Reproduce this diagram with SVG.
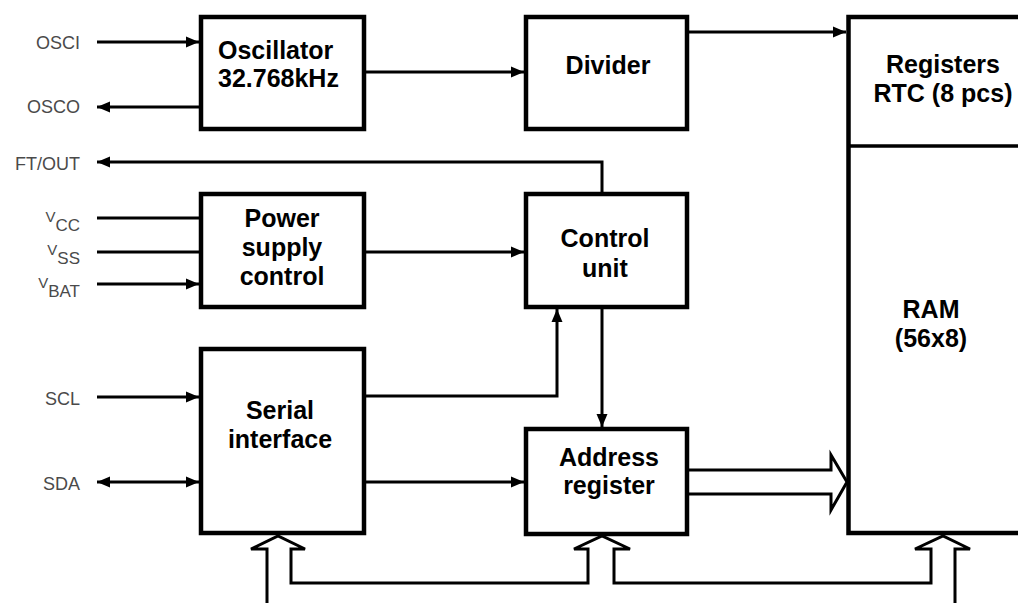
<svg xmlns="http://www.w3.org/2000/svg" width="1018" height="603" viewBox="0 0 1018 603">
<style>
.box{fill:#fff;stroke:#000;stroke-width:4.5}
.t{font-family:"Liberation Sans",Arial,sans-serif;font-weight:bold;font-size:25px;fill:#000}
.c{text-anchor:middle}
.lbl{font-family:"Liberation Sans",Arial,sans-serif;font-size:18px;fill:#4a4a4a;text-anchor:end}
.w{fill:none;stroke:#000;stroke-width:3}
.bus{fill:none;stroke:#000;stroke-width:3;stroke-linejoin:miter}
</style>
<defs>
<marker id="ah" markerUnits="userSpaceOnUse" markerWidth="14" markerHeight="12" refX="13" refY="6" orient="auto-start-reverse">
<path d="M0,0.5 L13,6 L0,11.5 z" fill="#000"/>
</marker>
</defs>
<rect width="1018" height="603" fill="#fff"/>
<g id="connectors">
<line class="w" x1="97" y1="42" x2="199" y2="42" marker-end="url(#ah)"/>
<line class="w" x1="199" y1="107" x2="97" y2="107" marker-end="url(#ah)"/>
<path class="w" d="M602,192 V162 H97" marker-end="url(#ah)"/>
<line class="w" x1="97" y1="218" x2="199" y2="218"/>
<line class="w" x1="97" y1="252" x2="199" y2="252"/>
<line class="w" x1="97" y1="284" x2="199" y2="284" marker-end="url(#ah)"/>
<line class="w" x1="97" y1="397" x2="199" y2="397" marker-end="url(#ah)"/>
<line class="w" x1="97" y1="482" x2="199" y2="482" marker-start="url(#ah)" marker-end="url(#ah)"/>
<line class="w" x1="366" y1="72" x2="524" y2="72" marker-end="url(#ah)"/>
<line class="w" x1="689" y1="32" x2="846" y2="32" marker-end="url(#ah)"/>
<line class="w" x1="366" y1="252" x2="524" y2="252" marker-end="url(#ah)"/>
<path class="w" d="M366,396 H557 V309" marker-end="url(#ah)"/>
<line class="w" x1="602" y1="309" x2="602" y2="427" marker-end="url(#ah)"/>
<line class="w" x1="366" y1="482" x2="524" y2="482" marker-end="url(#ah)"/>
<path class="bus" d="M689,470 H831 V455 L847,482 L831,510 V494 H689"/>
<path class="bus" d="M267,603 V549 H251 L278,536 L305,549 H291 V583 H588 V549 H574 L602,536 L630,549 H614 V583 H931 V549 H915 L943,536 L970,549 H955 V603"/>
</g>
<g id="labels">
<text class="lbl" x="80" y="49">OSCI</text>
<text class="lbl" x="80" y="113">OSCO</text>
<text class="lbl" x="80" y="170">FT/OUT</text>
<text class="lbl" x="80" y="231"><tspan font-size="15" dy="-9">V</tspan><tspan font-size="17" dy="9">CC</tspan></text>
<text class="lbl" x="80" y="264"><tspan font-size="15" dy="-9">V</tspan><tspan font-size="17" dy="9">SS</tspan></text>
<text class="lbl" x="80" y="297"><tspan font-size="15" dy="-9">V</tspan><tspan font-size="17" dy="9">BAT</tspan></text>
<text class="lbl" x="80" y="405">SCL</text>
<text class="lbl" x="80" y="490">SDA</text>
</g>
<g id="oscillator">
<rect class="box" x="201" y="17" width="163" height="112"/>
<text class="t" x="218" y="59">Oscillator</text>
<text class="t" x="218" y="87">32.768kHz</text>
</g>
<g id="divider">
<rect class="box" x="526" y="17" width="161" height="112"/>
<text class="t c" x="608" y="74">Divider</text>
</g>
<g id="power">
<rect class="box" x="201" y="194" width="163" height="113"/>
<text class="t c" x="282" y="227">Power</text>
<text class="t c" x="282" y="256">supply</text>
<text class="t c" x="282" y="285">control</text>
</g>
<g id="control">
<rect class="box" x="526" y="194" width="161" height="113"/>
<text class="t c" x="605" y="247">Control</text>
<text class="t c" x="605" y="277">unit</text>
</g>
<g id="serial">
<rect class="box" x="201" y="349" width="163" height="184"/>
<text class="t c" x="280" y="419">Serial</text>
<text class="t c" x="280" y="448">interface</text>
</g>
<g id="address">
<rect class="box" x="526" y="429" width="161" height="105"/>
<text class="t c" x="609" y="466">Address</text>
<text class="t c" x="609" y="494">register</text>
</g>
<g id="registers-ram">
<rect class="box" x="848.5" y="17" width="190" height="516"/>
<line x1="848" y1="146" x2="1030" y2="146" stroke="#000" stroke-width="3.5"/>
<text class="t c" x="943" y="73">Registers</text>
<text class="t c" x="943" y="102">RTC (8 pcs)</text>
<text class="t c" x="931" y="318">RAM</text>
<text class="t c" x="931" y="347">(56x8)</text>
</g>
</svg>
